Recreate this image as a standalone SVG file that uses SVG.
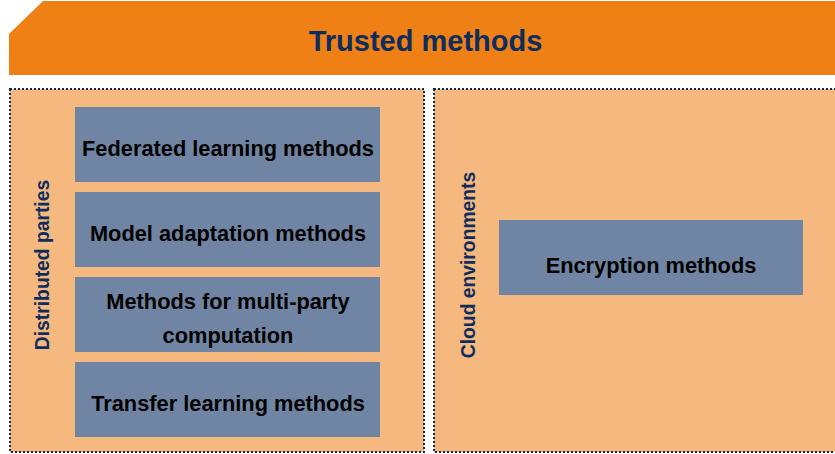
<svg xmlns="http://www.w3.org/2000/svg" width="835" height="454" viewBox="0 0 835 454">
<style>
.panel{fill:#f5b97f;stroke:#0d2b57;stroke-width:2;stroke-dasharray:2 2}
.box{fill:#7085a3}
.bt{font-family:"Liberation Sans",Arial,sans-serif;font-weight:bold;font-size:21.8px;fill:#000;text-anchor:middle}
.side{font-family:"Liberation Sans",Arial,sans-serif;font-weight:bold;font-size:19.3px;fill:#0d2d5e;text-anchor:middle}
</style>
<rect width="835" height="454" fill="#fff"/>
<g id="header">
<polygon points="9,34 43,1 835,1 835,75 9,75" fill="#ee8015"/>
<text x="425.5" y="51" font-family="Liberation Sans, Arial, sans-serif" font-weight="bold" font-size="29" fill="#0d2d5e" text-anchor="middle">Trusted methods</text>
</g>
<g id="distributed-parties">
<rect class="panel" x="10" y="89" width="414" height="363"/>
<text class="side" transform="translate(49,265) rotate(-90)">Distributed parties</text>
</g>
<g id="cloud-environments">
<rect class="panel" x="434" y="89" width="404" height="363"/>
<text class="side" transform="translate(475,265) rotate(-90)">Cloud environments</text>
</g>
<g id="federated">
<rect class="box" x="75" y="107" width="305" height="75"/>
<text class="bt" x="228" y="156">Federated learning methods</text>
</g>
<g id="model-adaptation">
<rect class="box" x="75" y="192" width="305" height="75"/>
<text class="bt" x="228" y="241">Model adaptation methods</text>
</g>
<g id="multi-party">
<rect class="box" x="75" y="277" width="305" height="75"/>
<text class="bt" x="228" y="309">Methods for multi-party</text>
<text class="bt" x="228" y="343">computation</text>
</g>
<g id="transfer">
<rect class="box" x="75" y="362" width="305" height="75"/>
<text class="bt" x="228" y="411">Transfer learning methods</text>
</g>
<g id="encryption">
<rect class="box" x="499" y="220" width="304" height="75"/>
<text class="bt" x="651" y="273">Encryption methods</text>
</g>
<g id="connectors"></g>
</svg>
